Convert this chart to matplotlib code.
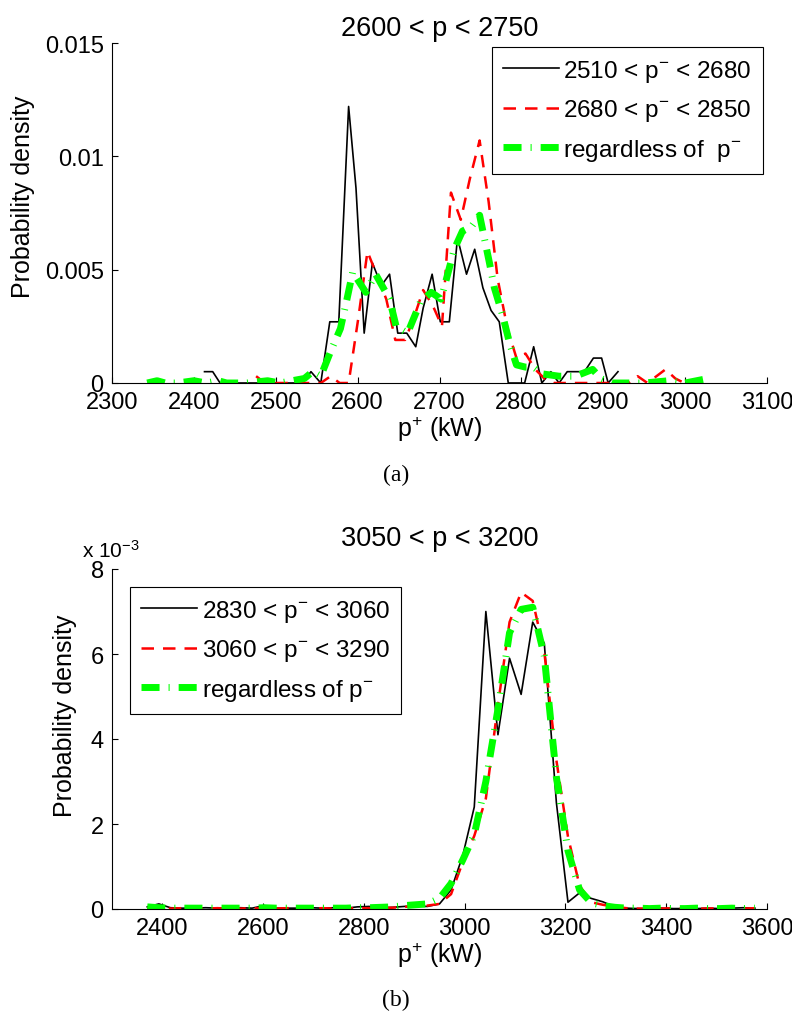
import numpy as np
import matplotlib
matplotlib.use('Agg')
import matplotlib.pyplot as plt

plt.rcParams['font.family'] = ['Liberation Sans', 'DejaVu Sans']
plt.rcParams['mathtext.default'] = 'regular'

# ---- panel (a): 2600 < p < 2750 ----
a_black_x = [2413, 2423, 2432, 2533, 2543, 2555, 2566, 2577, 2589, 2598, 2608, 2618, 2629,
             2639, 2649, 2660, 2671, 2680, 2691, 2701, 2712, 2722, 2733, 2743, 2753, 2763,
             2773, 2784, 2794, 2804, 2815, 2825, 2836, 2846, 2856, 2867, 2877, 2888, 2898,
             2906, 2918]
a_black_y = [0.0005, 0.0005, 0, 0, 0.0005, 0, 0.0027, 0.0027, 0.0122, 0.0086, 0.0022, 0.0053,
             0.0043, 0.0048, 0.0022, 0.0022, 0.0016, 0.0033, 0.0048, 0.0027, 0.0027, 0.0064,
             0.0048, 0.0059, 0.0042, 0.0032, 0.0027, 0, 0, 0, 0.0016, 0, 0.0005, 0, 0.0005,
             0.0005, 0.0005, 0.0011, 0.0011, 0, 0.0005]

a_red_x = [2476, 2487, 2498, 2510, 2521, 2532, 2544, 2555, 2567, 2578, 2589, 2601, 2612, 2623,
           2635, 2646, 2658, 2669, 2680, 2692, 2703, 2714, 2726, 2737, 2749, 2760, 2771, 2783,
           2794, 2805, 2817, 2828, 2840, 2851, 2862, 2874, 2885, 2897, 2908, 2920, 2931, 2942,
           2954, 2965, 2976, 2988, 2999, 3011, 3022]
a_red_y = [0.0003, 0, 0, 0, 0, 0, 0, 0, 0.0003, 0, 0, 0.0029, 0.0058, 0.0048, 0.0037, 0.0019,
           0.0019, 0.0029, 0.0041, 0.0034, 0.0025, 0.0084, 0.0072, 0.0090, 0.0107, 0.0080,
           0.0046, 0.0024, 0.0011, 0.0013, 0.0006, 0.0002, 0, 0, 0, 0, 0, 0, 0, 0, 0, 0.0003,
           0, 0.0003, 0.0006, 0.0002, 0, 0, 0.0001]

a_green_x = [2343, 2355, 2365, 2380, 2400, 2415, 2430, 2440, 2465, 2490, 2505, 2520, 2535,
             2545, 2555, 2566, 2579, 2587, 2594, 2610, 2622, 2639, 2647, 2661, 2677, 2690,
             2702, 2718, 2728, 2739, 2749, 2761, 2767, 2777, 2786, 2794, 2805, 2815, 2826,
             2846, 2866, 2887, 2897, 2910, 2950, 2980, 3000, 3028]
a_green_y = [0, 0.0001, 0, 0, 0.0001, 0, 0.0001, 0, 0, 0.0001, 0, 0.0001, 0.0002, 0.0005,
             0.0003, 0.0013, 0.0024, 0.0037, 0.0049, 0.0040, 0.0048, 0.0037, 0.0025, 0.0022,
             0.0036, 0.0040, 0.0037, 0.0059, 0.0067, 0.0069, 0.0074, 0.0053, 0.0042, 0.0030,
             0.0017, 0.0008, 0.0007, 0.0007, 0.0004, 0.0003, 0.0003, 0.0006, 0.0002, 0, 0,
             0.0001, 0, 0.0002]

a_labels = ['2510 < $p^{-}$ < 2680', '2680 < $p^{-}$ < 2850', 'regardless of  $p^{-}$']

# ---- panel (b): 3050 < p < 3200 (values in units of 1e-3) ----
b_x = [2370, 2393, 2416, 2439, 2462, 2486, 2509, 2532, 2555, 2578, 2602, 2625, 2648, 2671,
       2694, 2718, 2741, 2764, 2787, 2810, 2834, 2857, 2880, 2903, 2926, 2950, 2973, 2996,
       3019, 3042, 3066, 3089, 3112, 3135, 3158, 3182, 3205, 3228, 3251, 3274, 3298, 3321,
       3344, 3367, 3390, 3414, 3437, 3460, 3483, 3506, 3530, 3553, 3576]
b_black = [0.05, 0.12, 0.03, 0.02, 0.02, 0.03, 0.02, 0.02, 0.03, 0.02, 0.08, 0.02, 0.02, 0.02,
           0.03, 0.02, 0.03, 0.02, 0.05, 0.06, 0.03, 0.04, 0.06, 0.07, 0.06,
           0.12, 0.45, 1.25, 2.4, 7.0, 4.1, 5.9, 5.05, 6.75, 6.25, 2.5, 0.16, 0.38, 0.25, 0.17,
           0.05, 0.02, 0.01, 0.01, 0.02, 0.01, 0.01, 0.01, 0.02, 0.01, 0.02, 0.03, 0.02]
b_red = [0.02, 0.01, 0.01, 0.02, 0.01, 0.01, 0.02, 0.01, 0.01, 0.02, 0.01, 0.01, 0.02, 0.01,
         0.01, 0.02, 0.01, 0.01, 0.02, 0.02, 0.03, 0.03, 0.05, 0.07, 0.08,
         0.12, 0.35, 1.1, 1.72, 2.6, 4.8, 6.75, 7.45, 7.25, 6.05, 3.5, 1.7, 0.55, 0.16, 0.1,
         0.05, 0.02, 0.01, 0.01, 0.01, 0.02, 0.01, 0.01, 0.01, 0.02, 0.01, 0.01, 0.02]
b_green = [0.05, 0.03, 0.02, 0.02, 0.02, 0.02, 0.02, 0.02, 0.02, 0.02, 0.03, 0.02, 0.02, 0.02,
           0.02, 0.02, 0.02, 0.02, 0.03, 0.03, 0.04, 0.05, 0.08, 0.1, 0.12,
           0.25, 0.6, 1.15, 1.75, 3.0, 4.7, 6.5, 7.05, 7.1, 5.95, 3.1, 1.37, 0.45, 0.15, 0.08,
           0.04, 0.02, 0.02, 0.01, 0.02, 0.01, 0.01, 0.02, 0.01, 0.01, 0.02, 0.01, 0.02]

b_labels = ['2830 < $p^{-}$ < 3060', '3060 < $p^{-}$ < 3290', 'regardless of $p^{-}$']

FS = 17      # tick labels
FS_A = 18    # axis labels
FS_T = 19.5  # titles
FS_L = 17.5  # legends
W, H = 792, 1020


def style_axes(ax):
    ax.spines['top'].set_visible(False)
    ax.spines['right'].set_visible(False)
    for s in ['left', 'bottom']:
        ax.spines[s].set_linewidth(0.8)
    ax.tick_params(direction='in', length=4.5, width=0.8, labelsize=FS)
    ax.tick_params(axis='x', pad=6)
    ax.tick_params(axis='y', pad=6)


def lift_yticklabels(ax):
    for lbl in ax.get_yticklabels():
        lbl.set_verticalalignment('center_baseline')


def draw(ax, xb, yb, xr, yr, xg, yg, labels):
    l1, = ax.plot(xb, yb, color='black', lw=1.2, label=labels[0])
    l2, = ax.plot(xr, yr, color='red', lw=1.8, dashes=(5, 3.6), label=labels[1])
    l3, = ax.plot(xg, yg, color='#00ff00', lw=5, dashes=(2.6, 1.3, 0.15, 1.3), label=labels[2])
    return [l1, l2, l3]


def add_legend(ax, handles, loc, anchor):
    leg = ax.legend(handles=handles, loc=loc, bbox_to_anchor=anchor,
                    bbox_transform=fig.transFigure, borderaxespad=0, fontsize=FS_L,
                    handlelength=2.3, handletextpad=0.2, labelspacing=0.55,
                    borderpad=0.45, fancybox=False, framealpha=1, edgecolor='black')
    leg.get_frame().set_linewidth(0.8)


fig = plt.figure(figsize=(W / 100, H / 100), dpi=100)

# panel (a)
ax1 = fig.add_axes([112 / W, 1 - 384 / H, 655 / W, 340 / H])
style_axes(ax1)
h = draw(ax1, a_black_x, a_black_y, a_red_x, a_red_y, a_green_x, a_green_y, a_labels)
ax1.set_xlim(2300, 3100)
ax1.set_ylim(0, 0.015)
ax1.set_xticks(range(2300, 3101, 100))
ax1.set_yticks([0, 0.005, 0.01, 0.015])
ax1.set_yticklabels(['0', '0.005', '0.01', '0.015'])
lift_yticklabels(ax1)
ax1.set_title('2600 < p < 2750', fontsize=FS_T, pad=6)
ax1.set_xlabel('$p^{+}$ (kW)', fontsize=FS_A, labelpad=0)
ax1.set_ylabel('Probability density', fontsize=FS_A)
ax1.yaxis.set_label_coords(-0.118, 0.55)
add_legend(ax1, h, 'upper right', (763 / W, 1 - 48 / H))
fig.text(396 / W, 1 - 475 / H, '(a)', family='Liberation Serif', fontsize=17,
         ha='center', va='center')

# panel (b)
ax2 = fig.add_axes([112 / W, 1 - 910 / H, 655 / W, 340 / H])
style_axes(ax2)
h = draw(ax2, b_x, np.array(b_black) * 1e-3, b_x, np.array(b_red) * 1e-3,
         b_x, np.array(b_green) * 1e-3, b_labels)
ax2.set_xlim(2300, 3600)
ax2.set_ylim(0, 0.008)
ax2.set_xticks(range(2400, 3601, 200))
ax2.set_yticks([0, 0.002, 0.004, 0.006, 0.008])
ax2.set_yticklabels(['0', '2', '4', '6', '8'])
lift_yticklabels(ax2)
ax2.set_title('3050 < p < 3200', fontsize=FS_T, pad=17)
ax2.set_xlabel('$p^{+}$ (kW)', fontsize=FS_A, labelpad=0)
ax2.set_ylabel('Probability density', fontsize=FS_A)
ax2.yaxis.set_label_coords(-0.053, 0.57)
fig.text(82 / W, 1 - 551 / H, 'x 10$^{-3}$', fontsize=15, ha='left', va='center')
add_legend(ax2, h, 'upper left', (130 / W, 1 - 588 / H))
fig.text(396 / W, 1 - 1000 / H, '(b)', family='Liberation Serif', fontsize=17,
         ha='center', va='center')

fig.savefig('out.png', dpi=100)
